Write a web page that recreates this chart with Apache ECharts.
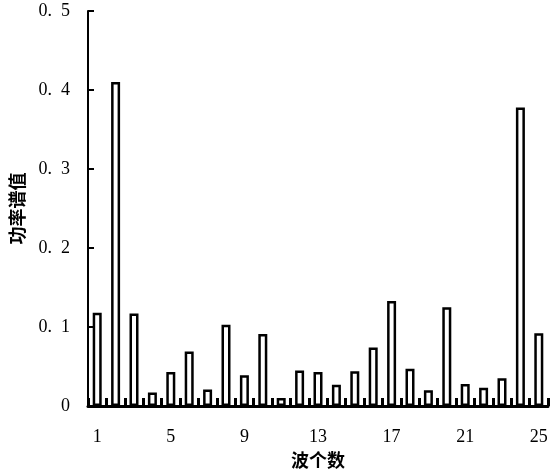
<!DOCTYPE html>
<html>
<head>
<meta charset="utf-8">
<script src="https://cdn.jsdelivr.net/npm/echarts@6/dist/echarts.min.js"></script>
<style>html,body{margin:0;padding:0;background:#fff;}#c{width:551px;height:470px;}</style>
</head>
<body>
<div id="c"></div>
<script>
var waves = ['1','2','3','4','5','6','7','8','9','10','11','12','13','14','15','16','17','18','19','20','21','22','23','24','25'];
var power = [0.118, 0.41, 0.117, 0.017, 0.043, 0.069, 0.021, 0.103, 0.039, 0.091, 0.01, 0.045, 0.043, 0.027, 0.044, 0.074, 0.133, 0.047, 0.02, 0.125, 0.028, 0.023, 0.035, 0.378, 0.092];
var yTicks = [0, 0.1, 0.2, 0.3, 0.4, 0.5];

var chart = echarts.init(document.getElementById('c'), null, {renderer: 'canvas'});
var serif = '"Liberation Serif", "DejaVu Serif", serif';
chart.setOption({
  animation: false,
  backgroundColor: '#fff',
  grid: {left: 88, right: 3, top: 11, bottom: 64, containLabel: false, outerBoundsMode: 'none'},
  xAxis: {
    type: 'category',
    data: waves,
    boundaryGap: true,
    name: '波个数',
    nameLocation: 'middle',
    nameGap: 43,
    nameTextStyle: {fontFamily: '"Noto Sans CJK SC", sans-serif', fontSize: 18, color: '#000', fontWeight: 'bold'},
    axisLine: {lineStyle: {color: '#000', width: 3}},
    axisTick: {show: true, inside: true, length: 8, interval: 0, lineStyle: {color: '#000', width: 3}},
    axisLabel: {interval: 3, margin: 22, fontFamily: serif, fontSize: 18, color: '#000'},
    splitLine: {show: false}
  },
  yAxis: {
    type: 'value',
    min: yTicks[0],
    max: yTicks[yTicks.length - 1],
    interval: 0.1,
    name: '功率谱值',
    nameLocation: 'middle',
    nameRotate: 90,
    nameGap: 62,
    nameTextStyle: {fontFamily: '"Noto Sans CJK SC", sans-serif', fontSize: 18, color: '#000', fontWeight: 'bold'},
    axisLine: {show: true, lineStyle: {color: '#000', width: 2}},
    axisTick: {show: true, inside: true, length: 6, lineStyle: {color: '#000', width: 2}},
    axisLabel: {margin: 18, fontFamily: serif, fontSize: 18, color: '#000',
      formatter: function (v) { return v === 0 ? '0' : v.toFixed(1).replace('.', '.  '); }},
    splitLine: {show: false}
  },
  series: [{
    type: 'bar',
    data: power,
    barWidth: 9,
    itemStyle: {color: '#fff', borderColor: '#000', borderWidth: 2.5}
  }]
});
</script>
</body>
</html>
